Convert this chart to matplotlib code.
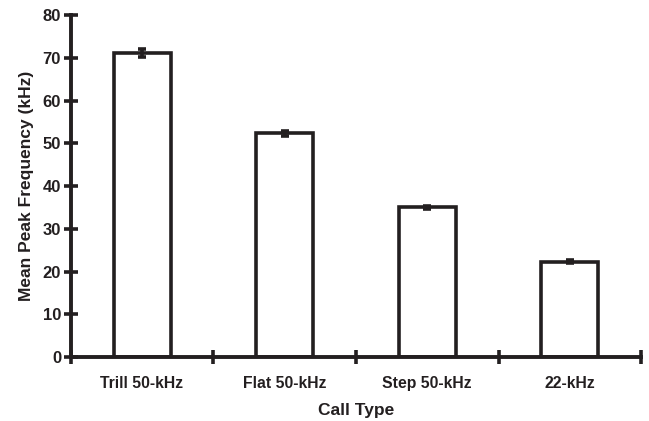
import numpy as np
import matplotlib
matplotlib.use('Agg')
from matplotlib import pyplot as plt

# Call categories and mean peak frequency (kHz) with SEM
call_types = ['Trill 50-kHz', 'Flat 50-kHz', 'Step 50-kHz', '22-kHz']
mean_peak = [71.1, 52.4, 35.0, 22.3]
sem_peak = [1.0, 0.6, 0.4, 0.3]

ink = '#231f20'
plt.rcParams['font.family'] = ['Liberation Sans', 'DejaVu Sans']
plt.rcParams['font.weight'] = 'bold'

fig = plt.figure(figsize=(6.49, 4.21), dpi=100)
ax = fig.add_axes([0.109, 0.152, 0.879, 0.812])

x = np.arange(len(call_types))
ax.bar(x, mean_peak, width=0.4, color='white', edgecolor=ink, linewidth=2.6,
       zorder=2)
ax.errorbar(x, mean_peak, yerr=sem_peak, fmt='none', ecolor=ink,
            elinewidth=2.6, capsize=3, capthick=2.6, zorder=3)

ax.set_xlim(-0.5, len(call_types) - 0.5)
ax.set_ylim(0, 80)
ax.set_yticks(np.arange(0, 81, 10))

# Category labels sit between the boundary ticks
ax.set_xticks(np.arange(len(call_types) + 1) - 0.5)
ax.set_xticklabels([])
ax.set_xticks(x, minor=True)
ax.set_xticklabels(call_types, minor=True, fontsize=11.3, fontweight='bold', color=ink)
ax.tick_params(axis='x', which='minor', length=0, pad=14)
ax.tick_params(axis='x', which='major', direction='inout', length=10, width=2.6,
               color=ink)
ax.tick_params(axis='y', direction='inout', length=10, width=2.6, color=ink,
               labelsize=12, labelcolor=ink, pad=2)
for lab in ax.get_yticklabels():
    lab.set_fontweight('bold')

for side in ['top', 'right']:
    ax.spines[side].set_visible(False)
for side in ['left', 'bottom']:
    ax.spines[side].set_linewidth(2.8)
    ax.spines[side].set_color(ink)
    ax.spines[side].set_zorder(4)

ax.set_xlabel('Call Type', fontsize=12.5, fontweight='bold', color=ink, labelpad=8)
ax.set_ylabel('Mean Peak Frequency (kHz)', fontsize=12.5, fontweight='bold',
              color=ink, labelpad=6)

fig.savefig('out.png', dpi=100)
